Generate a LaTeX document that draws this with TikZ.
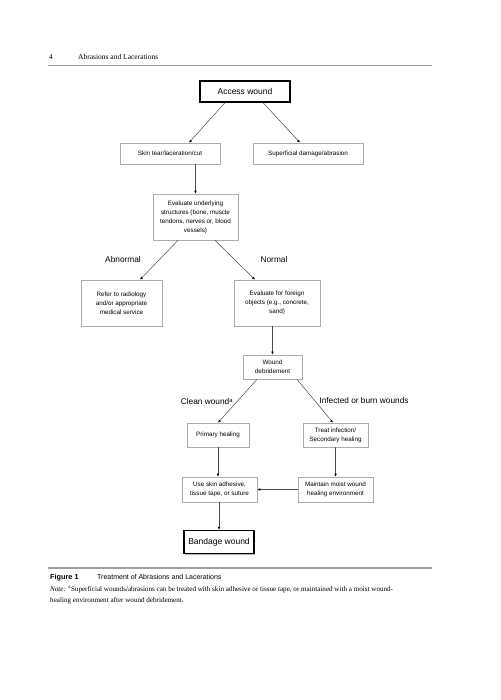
\documentclass[tikz,border=0pt]{standalone}
\usepackage{fontspec}
\setmainfont{Liberation Serif}
\setsansfont{Liberation Sans}
\usetikzlibrary{shadows,arrows.meta}
\begin{document}
\begin{tikzpicture}[x=1pt,y=-1pt,
  box/.style={draw=gray!65,line width=0.6pt,fill=white,align=center,inner sep=1pt,
    font=\sffamily\fontsize{6.3}{9}\selectfont,
    drop shadow={shadow xshift=1.3pt,shadow yshift=-1.3pt,fill=gray!60,opacity=1}},
  bbox/.style={box,draw=black,line width=1.3pt,font=\sffamily\fontsize{8.5}{10}\selectfont},
  lbl/.style={font=\sffamily\fontsize{8.3}{10}\selectfont,inner sep=0pt},
  arr/.style={draw=gray!60!black,line width=0.5pt,-{Latex[length=3pt,width=2.6pt,black]}},
  rulel/.style={draw=gray!75,line width=1.6pt}]
\useasboundingbox[fill=white] (0,0) rectangle (500,700);
% header
\node[anchor=base west,font=\fontsize{7.5}{9}\selectfont,inner sep=0pt] (pg) at (49,60) {4};
\node[anchor=base west,font=\fontsize{7.5}{9}\selectfont,inner sep=0pt] (ht) at (78,60) {Abrasions and Lacerations};
\coordinate (hl1) at (48,65.5);
\coordinate (hl2) at (432,65.5);
\draw[rulel] (hl1) -- (hl2);
% nodes
\node[bbox,minimum width=90pt,minimum height=21pt] (aw) at (245,91.5) {Access wound};
\node[box,minimum width=100pt,minimum height=21pt] (st) at (170,153.5) {Skin tear/laceration/cut};
\node[box,minimum width=110pt,minimum height=21pt] (sd) at (308,153.5) {Superficial damage/abrasion};
\node[box,minimum width=85pt,minimum height=46pt] (ev) at (195.5,217) {Evaluate underlying\\structures (bone, muscle\\tendons, nerves or, blood\\vessels)};
\node[box,minimum width=81pt,minimum height=46pt] (rf) at (121.5,303) {Refer to radiology\\and/or appropriate\\medical service};
\node[box,minimum width=86pt,minimum height=46pt] (fo) at (277,303) {Evaluate for foreign\\objects (e.g., concrete,\\sand)};
\node[box,minimum width=59pt,minimum height=24pt] (wd) at (272.5,367) {Wound\\debridement};
\node[box,minimum width=62pt,minimum height=24pt] (ph) at (218,435) {Primary healing};
\node[box,minimum width=65pt,minimum height=24pt] (ti) at (335.5,435) {Treat infection/\\Secondary healing};
\node[box,minimum width=75pt,minimum height=25pt] (us) at (219.5,489.5) {Use skin adhesive,\\tissue tape, or suture};
\node[box,minimum width=75pt,minimum height=25pt] (mm) at (335.5,489.5) {Maintain moist wound\\healing environment};
\node[bbox,minimum width=70pt,minimum height=23pt] (bw) at (219,542) {Bandage wound};
% labels
\node[lbl] (ab) at (123,260) {Abnormal};
\node[lbl] (nm) at (274,260) {Normal};
\node[lbl] (cw) at (207,402) {Clean wound\textsuperscript{a}};
\node[lbl] (ib) at (364,400.5) {Infected or burn wounds};
% connectors
\draw[arr] ([xshift=-20pt]aw.south) -- ([xshift=19pt]st.north);
\draw[arr] ([xshift=18pt]aw.south) -- ([xshift=-8pt]sd.north);
\draw[arr] (ev.north |- st.south) -- (ev.north);
\draw[arr] ([xshift=-17.5pt]ev.south) -- ([xshift=18.5pt]rf.north);
\draw[arr] ([xshift=19.5pt]ev.south) -- ([xshift=-22pt]fo.north);
\draw[arr] (wd.north |- fo.south) -- (wd.north);
\draw[arr] ([xshift=-15.5pt]wd.south) -- (ph.north);
\draw[arr] ([xshift=24.5pt]wd.south) -- ([xshift=-2.5pt]ti.north);
\draw[arr] (ph.south) -- (ph.south |- us.north);
\draw[arr] (ti.south) -- (ti.south |- mm.north);
\draw[arr] (mm.west) -- (us.east);
\draw[arr] (bw.north |- us.south) -- (bw.north);
% bottom rule and caption
\coordinate (bl1) at (48,568);
\coordinate (bl2) at (432,568);
\draw[rulel] (bl1) -- (bl2);
\node[anchor=base west,font=\sffamily\bfseries\fontsize{7.3}{9}\selectfont,inner sep=0pt] (fg) at (50,579.5) {Figure 1};
\node[anchor=base west,font=\sffamily\fontsize{7}{9}\selectfont,inner sep=0pt] (ft) at (97,579.5) {Treatment of Abrasions and Lacerations};
\node[anchor=base west,font=\fontsize{7.1}{9}\selectfont,inner sep=0pt] (n1) at (50,591.5) {\textit{Note:} \textsuperscript{a}Superficial wounds/abrasions can be treated with skin adhesive or tissue tape, or maintained with a moist wound-};
\node[anchor=base west,font=\fontsize{7.1}{9}\selectfont,inner sep=0pt] (n2) at (50,602.5) {healing environment after wound debridement.};
\end{tikzpicture}
\end{document}
